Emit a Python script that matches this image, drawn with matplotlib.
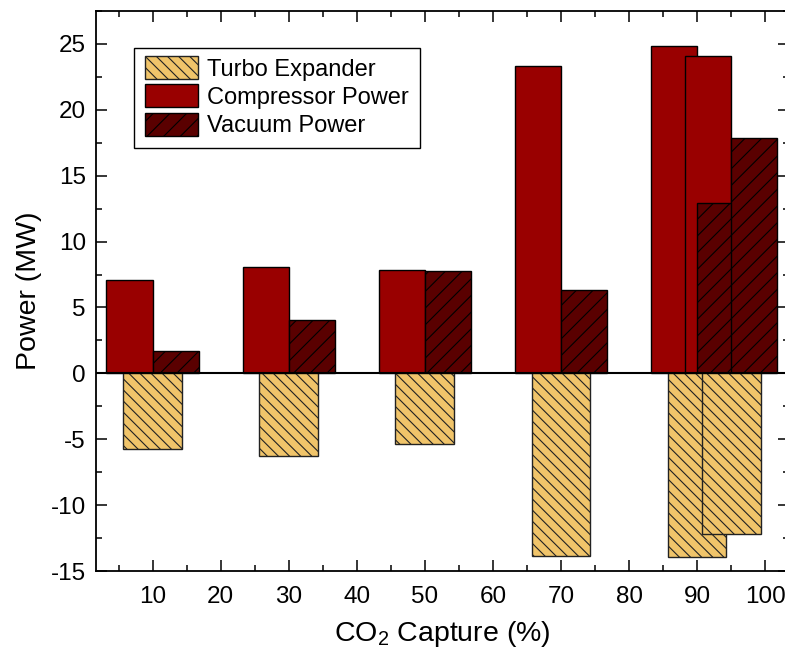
import matplotlib
matplotlib.use("Agg")
import matplotlib.pyplot as plt
from matplotlib.ticker import MultipleLocator
from matplotlib.patches import Rectangle
from matplotlib.container import BarContainer
from matplotlib.legend_handler import HandlerPatch, update_from_first_child

plt.rcParams['font.family'] = ['Liberation Sans', 'DejaVu Sans']
plt.rcParams['mathtext.default'] = 'regular'
plt.rcParams['axes.unicode_minus'] = False
plt.rcParams['hatch.linewidth'] = 0.8
plt.rcParams['hatch.color'] = 'black'

capture = [10, 30, 50, 70, 90, 95]
turbo_expander = [-5.75, -6.3, -5.37, -13.85, -13.93, -12.2]
compressor_power = [7.05, 8.07, 7.85, 23.35, 24.83, 24.1]
vacuum_power = [1.7, 4.05, 7.8, 6.32, 12.9, 17.85]

xticks = [10, 20, 30, 40, 50, 60, 70, 80, 90, 100]
yticks = [-15, -10, -5, 0, 5, 10, 15, 20, 25]

fig = plt.figure(figsize=(7.85, 6.54), dpi=100)
ax = fig.add_axes([0.1217, 0.1269, 1.005 - 0.1217, 0.9832 - 0.1269])

bw = 6.8
tw = 8.65
ax.bar(capture, compressor_power, width=-bw, align='edge', color='#990000',
       edgecolor='black', linewidth=1.0, label='Compressor Power', zorder=2)
ax.bar(capture, vacuum_power, width=bw, align='edge', color='#5a0000',
       edgecolor='black', linewidth=1.0, hatch='//', label='Vacuum Power', zorder=2)
ax.bar(capture, turbo_expander, width=tw, align='center', color='#f0c46a',
       edgecolor='#222222', linewidth=1.0, hatch='\\\\\\', label='Turbo Expander', zorder=2)

ax.axhline(0, color='black', linewidth=1.5, zorder=3)

ax.set_xlim(1.6, 103.5)
ax.set_ylim(-15, 27.5)
ax.set_xticks(xticks)
ax.set_yticks(yticks)
ax.xaxis.set_minor_locator(MultipleLocator(5))
ax.yaxis.set_minor_locator(MultipleLocator(2.5))
ax.tick_params(which='both', direction='in', top=True, right=True, width=1.1,
               labelsize=17.5)
ax.tick_params(which='major', length=8)
ax.tick_params(which='minor', length=4.3)
ax.tick_params(axis='x', pad=11)
ax.tick_params(axis='y', pad=7)
for s in ax.spines.values():
    s.set_linewidth(1.3)

ax.set_xlabel('CO$_2$ Capture (%)', fontsize=20.5, labelpad=8)
ax.set_ylabel('Power (MW)', fontsize=20.5, labelpad=6)

LSP = 0.27


def tall_patch(legend, orig_handle, xdescent, ydescent, width, height, fontsize):
    extra = LSP * fontsize
    return Rectangle((-xdescent, -ydescent - extra / 2.0), width, height + extra)


h, l = ax.get_legend_handles_labels()
order = [2, 0, 1]
leg = ax.legend([h[i] for i in order], [l[i] for i in order],
                loc='upper left', bbox_to_anchor=(0.0555, 0.934),
                borderaxespad=0, fontsize=17, fancybox=False, framealpha=1,
                edgecolor='black', handlelength=2.25,
                labelspacing=LSP, handletextpad=0.4, borderpad=0.45,
                handler_map={BarContainer: HandlerPatch(patch_func=tall_patch,
                                                        update_func=update_from_first_child)})
leg.get_frame().set_linewidth(1.0)

fig.savefig('out.png', dpi=100)
